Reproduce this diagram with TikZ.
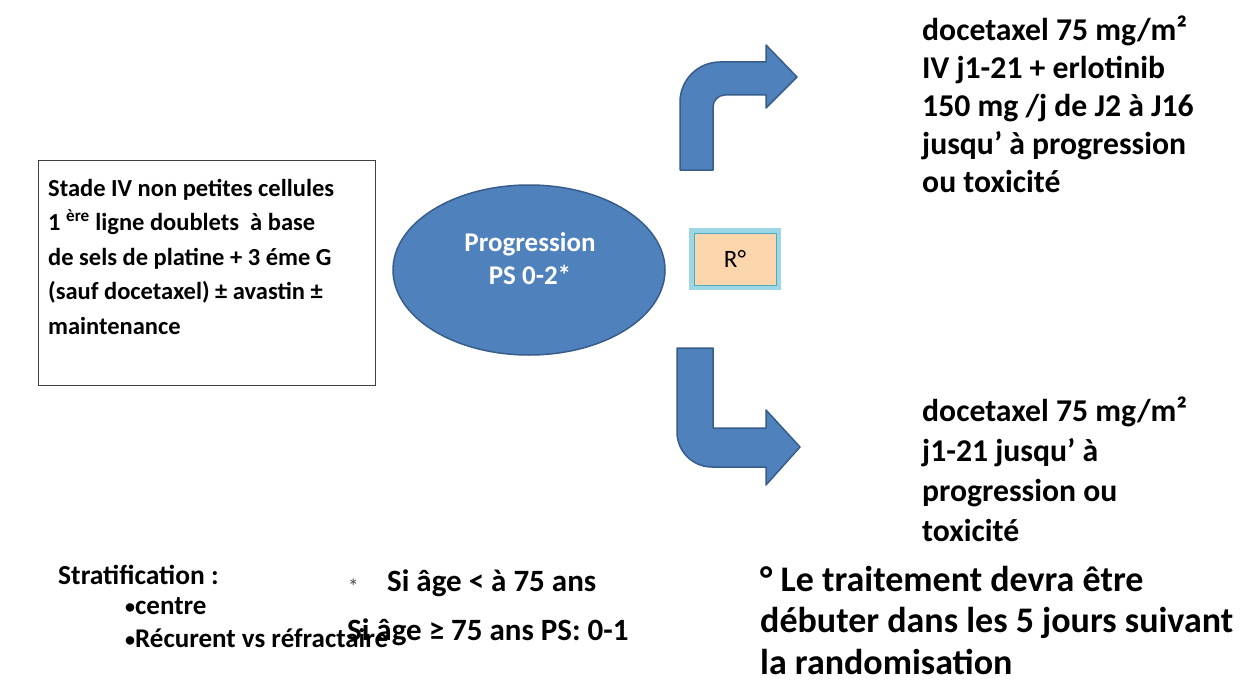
\documentclass[tikz,border=0pt]{standalone}
\usepackage{fontspec}
\setmainfont{Carlito}
\usetikzlibrary{shapes.geometric}
\definecolor{pblue}{HTML}{4F81BD}
\definecolor{pblueline}{HTML}{385D8A}
\definecolor{tan}{HTML}{FBD6AC}
\definecolor{glow}{HTML}{9DD6E4}
\definecolor{glowline}{HTML}{4BACC6}
\newcommand{\smallbullet}{{\fontsize{20}{20}\selectfont\raisebox{1pt}{\textbullet}}}
\tikzset{
  txt/.style={anchor=north west, inner sep=0pt, align=left, text=black},
  arrowshape/.style={fill=pblue, draw=pblueline, line width=1.5pt, line join=round},
}
\begin{document}
\begin{tikzpicture}[x=1pt, y=-1pt]
\useasboundingbox[fill=white] (0,0) rectangle (1242,682);

% patient box
\node[draw=black!75, line width=1.2pt, fill=white, minimum width=337pt, minimum height=225pt,
      anchor=north west, inner sep=0pt] (stade) at (38,160) {};
\node[txt, font={\fontsize{24.5}{34.5}\selectfont\bfseries}] (stadetxt) at (48,179)
  {Stade IV non petites cellules\\
   1 \textsuperscript{ère} ligne doublets \ à base\\
   de sels de platine + 3 éme G\\
   (sauf docetaxel) \textpm{} avastin \textpm\\
   maintenance};

% progression ellipse
\node[ellipse, fill=pblue, draw=pblueline, line width=1.5pt, minimum width=272pt, minimum height=170pt,
      inner sep=0pt] (prog) at (529,270) {};
\node[text=white, font={\fontsize{27}{33}\selectfont\bfseries}, align=center, inner sep=0pt] (progtxt) at (530,259)
  {Progression\\PS 0-2*};

% randomisation box
\node[draw=glow, line width=6pt, minimum width=86pt, minimum height=56pt, inner sep=0pt] (rglow) at (735,259) {};
\node[fill=tan, draw=glowline, line width=1pt, minimum width=82pt, minimum height=52pt, inner sep=0pt,
      font={\fontsize{25}{30}\selectfont}] (rbox) at (735,259) {R°};

% upper bent arrow
\path[arrowshape] (680,170) -- (680,102) arc[start angle=180, end angle=90, radius=40pt]
  -- (766,62) -- (766,45) -- (797,77) -- (766,108) -- (766,95) -- (725,95)
  arc[start angle=90, end angle=180, radius=12pt] -- (713,170) -- cycle;

% lower bent arrow
\path[arrowshape] (677,348) -- (713,348) -- (713,428) -- (766,428) -- (766,410) -- (800,447)
  -- (766,485) -- (766,467) -- (712,467) arc[start angle=270, end angle=180, radius=35pt] -- cycle;

% treatment arms
\node[txt, font={\fontsize{31.7}{38}\selectfont\bfseries}] (armA) at (922,16)
  {docetaxel 75 mg/m²\\
   IV j1-21 + erlotinib\\
   150 mg /j de J2 à J16\\
   jusqu’ à progression\\
   ou toxicité};
\node[txt, font={\fontsize{31.7}{40}\selectfont\bfseries}] (armB) at (922,397)
  {docetaxel 75 mg/m²\\
   j1-21 jusqu’ à\\
   progression ou\\
   toxicité};

% footnotes
\node[txt, font={\fontsize{27.5}{32}\selectfont\bfseries}] (strat) at (58,565) {Stratification :};
\node[txt, font={\fontsize{27}{33}\selectfont\bfseries}] (stratlist) at (125,597)
  {\smallbullet centre\\ \smallbullet Récurent vs réfractaire};
\node[txt, font={\fontsize{31}{49}\selectfont\bfseries}, inner sep=0pt] (age1) at (387,570)
  {Si âge < à 75 ans};
\node[txt, font={\fontsize{31}{49}\selectfont\bfseries}] (age2) at (347,619)
  {Si âge ≥ 75 ans PS: 0-1};
\node[anchor=east, inner sep=0pt, font={\fontsize{22}{22}\selectfont}, text=black!70] (star) at (359,587) {*};
\node[txt, font={\fontsize{36}{41.5}\selectfont\bfseries}] (note) at (760,566)
  {° Le traitement devra être\\
   débuter dans les 5 jours suivant\\
   la randomisation};
\end{tikzpicture}
\end{document}
